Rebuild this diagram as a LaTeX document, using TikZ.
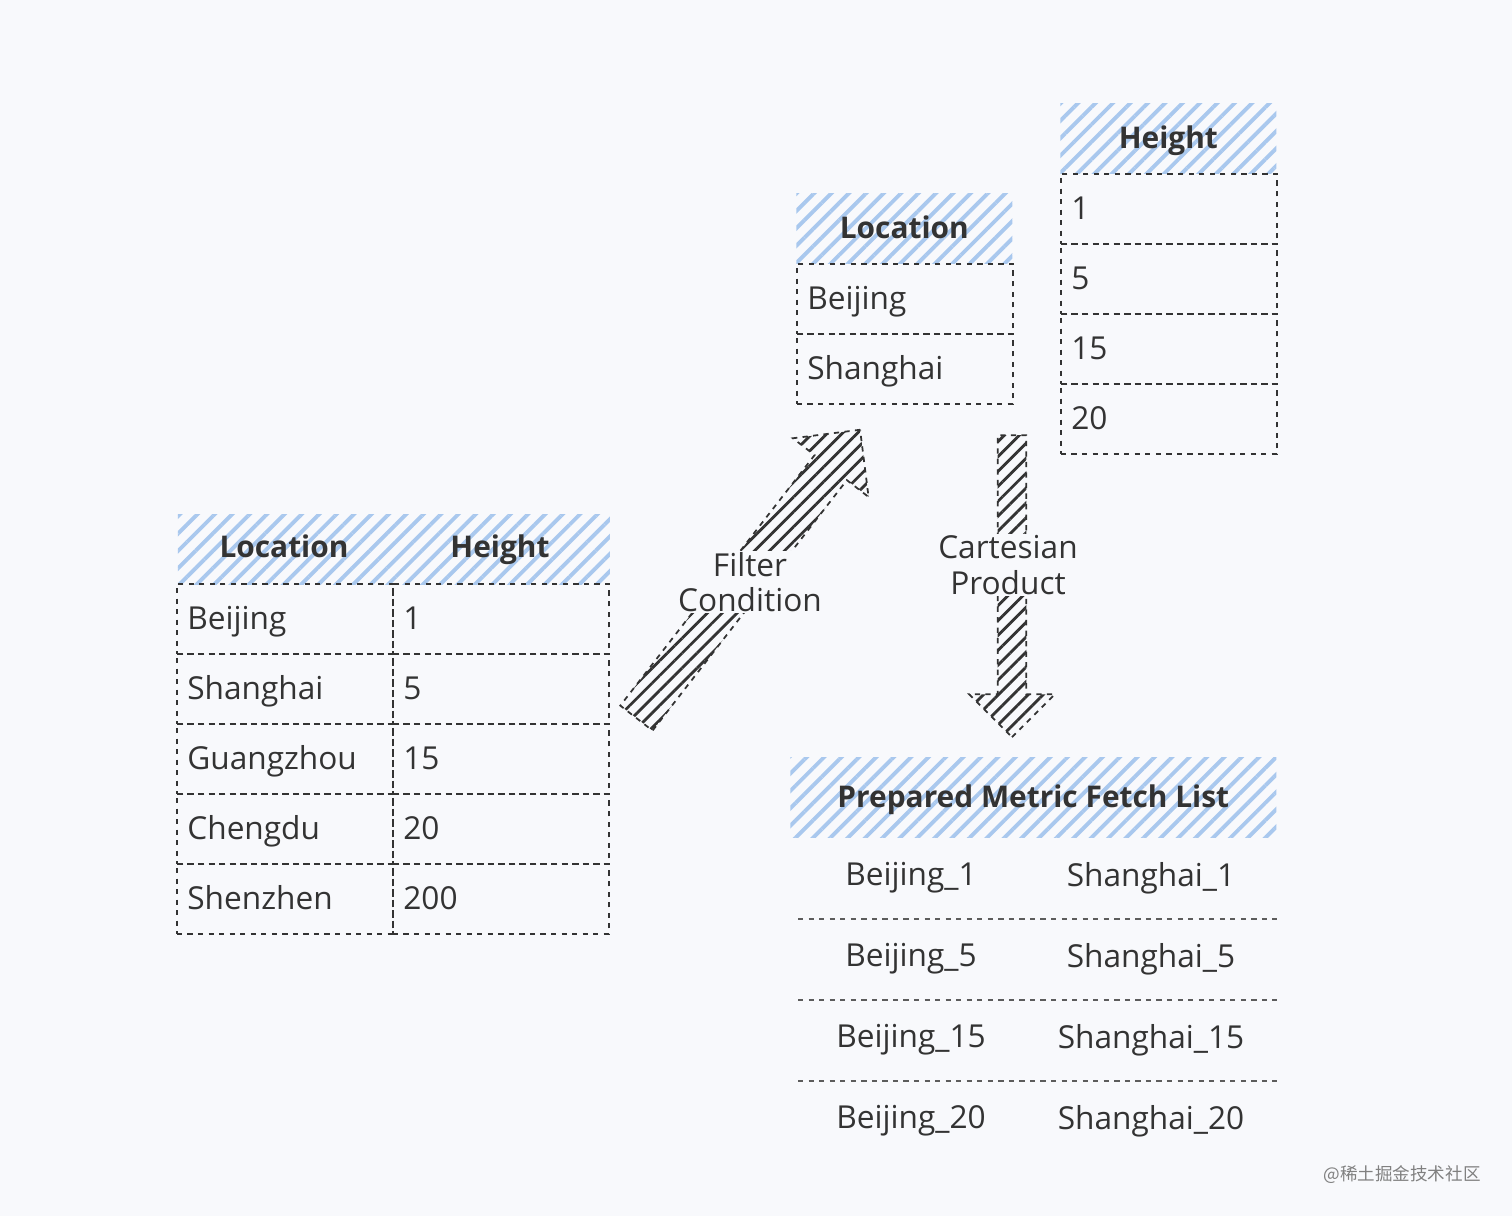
\documentclass[tikz,border=0pt]{standalone}
\usepackage{fontspec}
\setmainfont{Open Sans}
\newfontfamily\cjk{Noto Sans CJK SC}
\usetikzlibrary{patterns.meta,shapes.arrows}
\definecolor{bgc}{HTML}{F8F9FC}
\definecolor{ink}{HTML}{333333}
\definecolor{hatch}{HTML}{A9C8EE}
\tikzset{
    cell/.style={draw=ink,dashed,line width=1pt,minimum width=4.32cm,minimum height=1.4cm,
        text width=3.9cm,align=left,anchor=north west,font=\fontsize{18}{21}\selectfont,text=ink,
        text height=16pt,text depth=4pt},
    head/.style={pattern={Lines[angle=45,distance=7pt,line width=2.2pt]},pattern color=hatch,
        minimum height=1.4cm,anchor=north west,font=\bfseries\fontsize{17}{20}\selectfont,text=ink,
        text height=15pt,text depth=4pt},
    hfont/.style={text=ink,font=\bfseries\fontsize{17}{20}\selectfont,text height=13pt,text depth=4pt},
    bigarrow/.style={single arrow,draw=none,
        pattern={Lines[angle=#1,distance=6pt,line width=1.6pt]},pattern color=ink,
        postaction={draw=ink,dashed,line width=1pt}},
    lbl/.style={fill=bgc,align=center,inner sep=1pt,font=\fontsize{18}{20}\selectfont,text=ink},
    res/.style={font=\fontsize{18}{21}\selectfont,text=ink},
}
\begin{document}
\begin{tikzpicture}[x=0.02cm,y=-0.02cm]
    \fill[bgc] (0,0) rectangle (1512,1216);
    \useasboundingbox (0,0) rectangle (1512,1216);

    % source table
    \node[head,minimum width=8.64cm] (th) at (176,513) {};
    \node[hfont] at (284,550) {Location};
    \node[hfont] at (500,550) {Height};
    \foreach \loc/\h [count=\i from 0] in {Beijing/1,Shanghai/5,Guangzhou/15,Chengdu/20,Shenzhen/200}
    {
        \node[cell] (tl\i) at (176,583+70*\i) {\loc};
        \node[cell] (tv\i) at (392,583+70*\i) {\h};
    }

    % location table
    \node[head,minimum width=4.32cm] (lh) at (796,193) {Location};
    \node[cell] (l0) at (796,263) {Beijing};
    \node[cell] (l1) at (796,333) {Shanghai};

    % height table
    \node[head,minimum width=4.32cm] (hh) at (1060,103) {Height};
    \foreach \h [count=\i from 0] in {1,5,15,20}
        \node[cell] (h\i) at (1060,173+70*\i) {\h};

    % result list
    \node[head,minimum width=9.72cm,minimum height=1.6cm] (rh) at (790,757) {Prepared Metric Fetch List};
    \foreach \h [count=\i from 0] in {1,5,15,20}
    {
        \node[minimum width=9.56cm,minimum height=1.62cm,anchor=north west,inner sep=0] (r\i) at (798,837+81*\i) {};
        \node[res] (b\i) at (911,878+81*\i) {Beijing\_\h};
        \node[res] (s\i) at (1151,878+81*\i) {Shanghai\_\h};
    }
    \foreach \i in {0,1,2}
        \draw[ink!80,dashed,line width=1pt] (r\i.south west) -- (r\i.south east);

    % arrows
    \node[bigarrow=45,minimum height=7.3cm,minimum width=1.9cm,inner sep=0.38cm,single arrow head extend=0.55cm,rotate=52.2] (fa) at (742,582) {};
    \node[lbl] (fl) at (750,582) {Filter\\Condition};
    \node[bigarrow=45,minimum height=6.04cm,minimum width=1.7cm,inner sep=0.28cm,single arrow head extend=0.57cm,rotate=-90] (ca) at (1012,579) {};
    \node[lbl] (cl) at (1008,565) {Cartesian\\Product};

    \node[text=gray,font=\cjk\fontsize{10}{12}\selectfont] (wm) at (1402,1175) {@稀土掘金技术社区};
\end{tikzpicture}
\end{document}
